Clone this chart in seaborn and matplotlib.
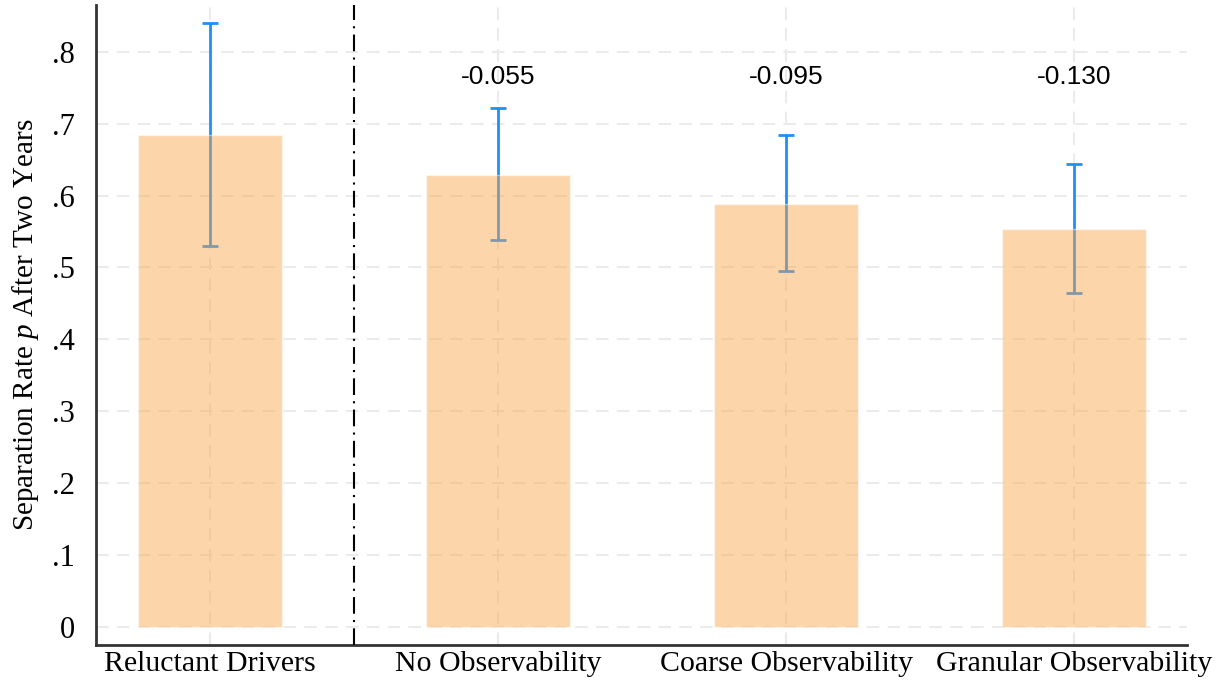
import matplotlib
matplotlib.use("Agg")
import matplotlib.pyplot as plt
import seaborn as sns
import pandas as pd

groups = ["Reluctant Drivers", "No Observability", "Coarse Observability", "Granular Observability"]
rates = [0.684, 0.629, 0.588, 0.553]
ci_low = [0.530, 0.538, 0.495, 0.465]
ci_high = [0.840, 0.722, 0.684, 0.644]
diff_labels = ["", "-0.055", "-0.095", "-0.130"]
yticks = [0, 0.1, 0.2, 0.3, 0.4, 0.5, 0.6, 0.7, 0.8]
ytick_labels = ["0", ".1", ".2", ".3", ".4", ".5", ".6", ".7", ".8"]

sns.set_style("white")
plt.rcParams["font.family"] = ["Liberation Serif", "DejaVu Serif"]
plt.rcParams["mathtext.fontset"] = "custom"
plt.rcParams["mathtext.it"] = "Liberation Serif:italic"
plt.rcParams["mathtext.rm"] = "Liberation Serif"
plt.rcParams["text.color"] = "black"
plt.rcParams["axes.labelcolor"] = "black"
plt.rcParams["xtick.color"] = "black"
plt.rcParams["ytick.color"] = "black"

df = pd.DataFrame({"group": groups, "rate": rates})

fig = plt.figure(figsize=(12.28, 6.85), dpi=100)
ax = fig.add_axes([0.0782, 0.0584, 0.8884, 0.9343])

# grid first
for y in yticks:
    ax.axhline(y, color="#ebebeb", lw=1.5, ls=(0, (6, 4)), zorder=0)
for i in range(len(groups)):
    ax.axvline(i, color="#ebebeb", lw=1.5, ls=(0, (6, 4)), zorder=0)

# error bars under the translucent bars
err = [[r - lo for r, lo in zip(rates, ci_low)], [hi - r for r, hi in zip(rates, ci_high)]]
ax.errorbar(range(len(groups)), rates, yerr=err, fmt="none", ecolor="#1e8fff",
            elinewidth=2, capsize=6, capthick=2, zorder=2)

sns.barplot(data=df, x="group", y="rate", order=groups, color="#fba346", alpha=0.45,
            width=0.5, saturation=1, ax=ax, zorder=3)

ax.axvline(0.5, color="black", lw=1.5, ls=(0, (8, 3, 1, 3)), zorder=4)

for i, lab in enumerate(diff_labels):
    if lab:
        ax.text(i, 0.765, lab, ha="center", va="center", fontsize=19,
                family=["Liberation Sans", "DejaVu Sans"])

ax.set_xlim(-0.396, 3.392)
ax.set_ylim(-0.025, 0.865)
ax.set_yticks(yticks)
ax.set_yticklabels(ytick_labels, fontsize=22)
ax.set_xticks(range(len(groups)))
ax.set_xticklabels(groups, fontsize=21.5)
ax.tick_params(axis="y", length=10, width=1.5, color="#333333", pad=5)
ax.tick_params(axis="x", length=0, pad=4)
ax.set_xlabel("")
ax.set_ylabel("Separation Rate $p$ After Two Years", fontsize=21, labelpad=8)

for s in ["top", "right"]:
    ax.spines[s].set_visible(False)
for s in ["left", "bottom"]:
    ax.spines[s].set_color("#333333")
    ax.spines[s].set_linewidth(2)

fig.savefig("out.png", dpi=100)
